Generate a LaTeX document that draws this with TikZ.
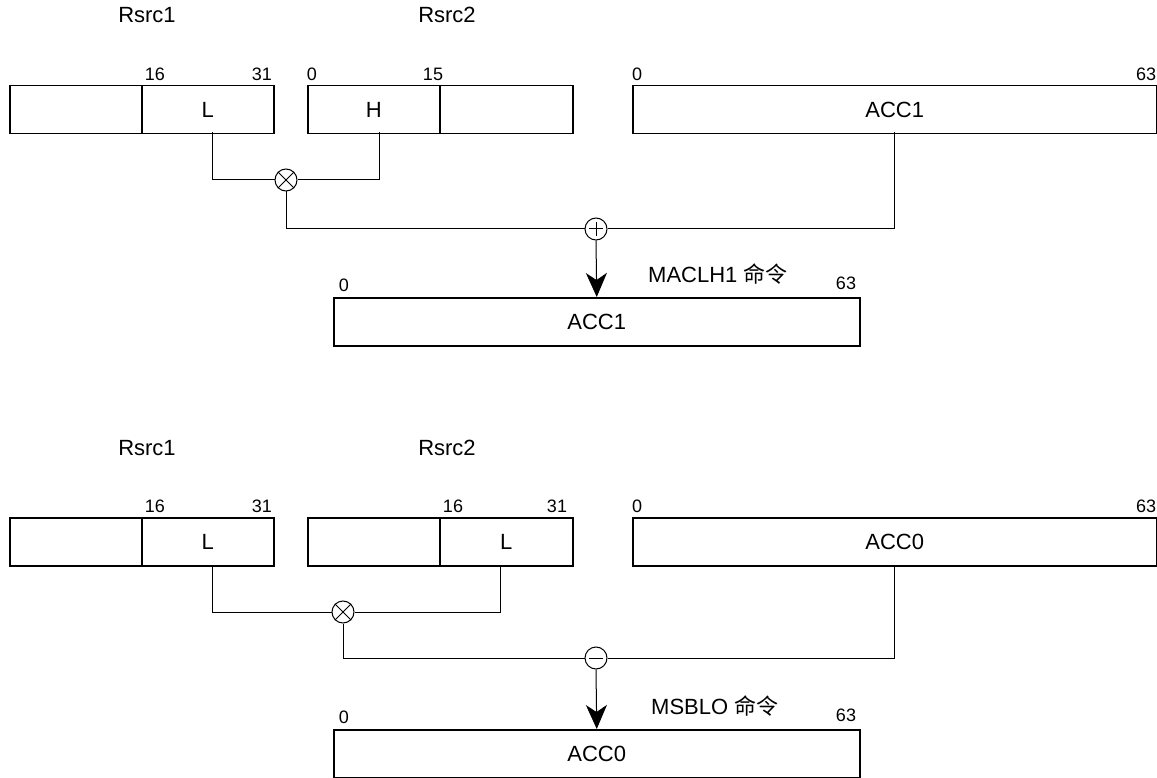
\documentclass[tikz,border=0pt]{standalone}
\usepackage{fontspec}
\setmainfont{Liberation Sans}
\newfontfamily\cjk{Noto Sans CJK SC}
\usetikzlibrary{arrows.meta,calc}
\tikzset{
  reg/.style={draw, line width=1.5pt, minimum height=48pt, inner sep=0pt, anchor=north west},
  lbl/.style={font=\fontsize{22}{24}\selectfont, inner sep=0pt},
  num/.style={font=\fontsize{18}{20}\selectfont, inner sep=0pt},
  wire/.style={line width=1pt},
  op/.style={draw, circle, line width=1pt, minimum size=22pt, inner sep=0pt},
  arr/.style={line width=1pt, -{Stealth[length=24pt,width=21pt,inset=7pt]}}
}
\begin{document}
\begin{tikzpicture}[x=1pt,y=-1pt]
\useasboundingbox (0,0) rectangle (1157,778);
% ---------- top ----------
\node[lbl] (t1) at (147,15) {Rsrc1};
\node[lbl] (t2) at (447,15) {Rsrc2};
\node[reg, minimum width=132pt] (a1) at (9,85) {};
\node[reg, minimum width=132pt] (a2) at (141,85) {};
\node[lbl] (aL) at (a2.center) {L};
\node[reg, minimum width=132pt] (b1) at (307,85) {};
\node[reg, minimum width=133pt] (b2) at (439,85) {};
\node[lbl] (bH) at (b1.center) {H};
\node[reg, minimum width=524pt] (c1) at (632,85) {};
\node[lbl] (cA) at (c1.center) {ACC1};
\node[num] (n16a) at (155,74) {16};
\node[num] (n31a) at (262,74) {31};
\node[num] (n0b) at (312,74) {0};
\node[num] (n15b) at (433,74) {15};
\node[num] (n0c) at (637,74) {0};
\node[num] (n63c) at (1146,74) {63};
\node[op] (mul1) at (286,180) {};
\draw[wire] (mul1.north west) -- (mul1.south east) (mul1.north east) -- (mul1.south west);
\draw[wire] (212,132) |- (mul1.west);
\draw[wire] (379,132) |- (mul1.east);
\node[op] (add1) at (596,229) {};
\draw[wire] ($(add1.center)+(-7,0)$) -- ($(add1.center)+(7,0)$) ($(add1.center)+(0,-7)$) -- ($(add1.center)+(0,7)$);
\draw[wire] (mul1.south) |- (add1.west);
\draw[wire] (894,132) |- (add1.east);
\node[reg, minimum width=526pt] (d1) at (333,297) {};
\node[lbl] (dA) at (d1.center) {ACC1};
\draw[arr] (add1.south) -- (d1.north);
\node[num] (n0d) at (344,285) {0};
\node[num] (n63d) at (846,283) {63};
\node[lbl, anchor=west] (mac) at (648,274) {MACLH1 {\cjk 命令}};
% ---------- bottom ----------
\node[lbl] (u1) at (147,448) {Rsrc1};
\node[lbl] (u2) at (447,448) {Rsrc2};
\node[reg, minimum width=132pt] (e1) at (9,517) {};
\node[reg, minimum width=132pt] (e2) at (141,517) {};
\node[lbl] (eL) at (e2.center) {L};
\node[reg, minimum width=132pt] (f1) at (307,517) {};
\node[reg, minimum width=133pt] (f2) at (439,517) {};
\node[lbl] (fL) at (f2.center) {L};
\node[reg, minimum width=524pt] (g1) at (632,517) {};
\node[lbl] (gA) at (g1.center) {ACC0};
\node[num] (n16e) at (155,506) {16};
\node[num] (n31e) at (262,506) {31};
\node[num] (n16f) at (453,506) {16};
\node[num] (n31f) at (557,506) {31};
\node[num] (n0g) at (637,506) {0};
\node[num] (n63g) at (1146,506) {63};
\node[op] (mul2) at (343,612) {};
\draw[wire] (mul2.north west) -- (mul2.south east) (mul2.north east) -- (mul2.south west);
\draw[wire] (212,565) |- (mul2.west);
\draw[wire] (500,565) |- (mul2.east);
\node[op] (sub2) at (596,658) {};
\draw[wire] ($(sub2.center)+(-7,0)$) -- ($(sub2.center)+(7,0)$);
\draw[wire] (mul2.south) |- (sub2.west);
\draw[wire] (894,565) |- (sub2.east);
\node[reg, minimum width=526pt] (h1) at (333,729) {};
\node[lbl] (hA) at (h1.center) {ACC0};
\draw[arr] (sub2.south) -- (h1.north);
\node[num] (n0h) at (344,717) {0};
\node[num] (n63h) at (846,715) {63};
\node[lbl, anchor=west] (msb) at (651,706) {MSBLO {\cjk 命令}};
\end{tikzpicture}
\end{document}
